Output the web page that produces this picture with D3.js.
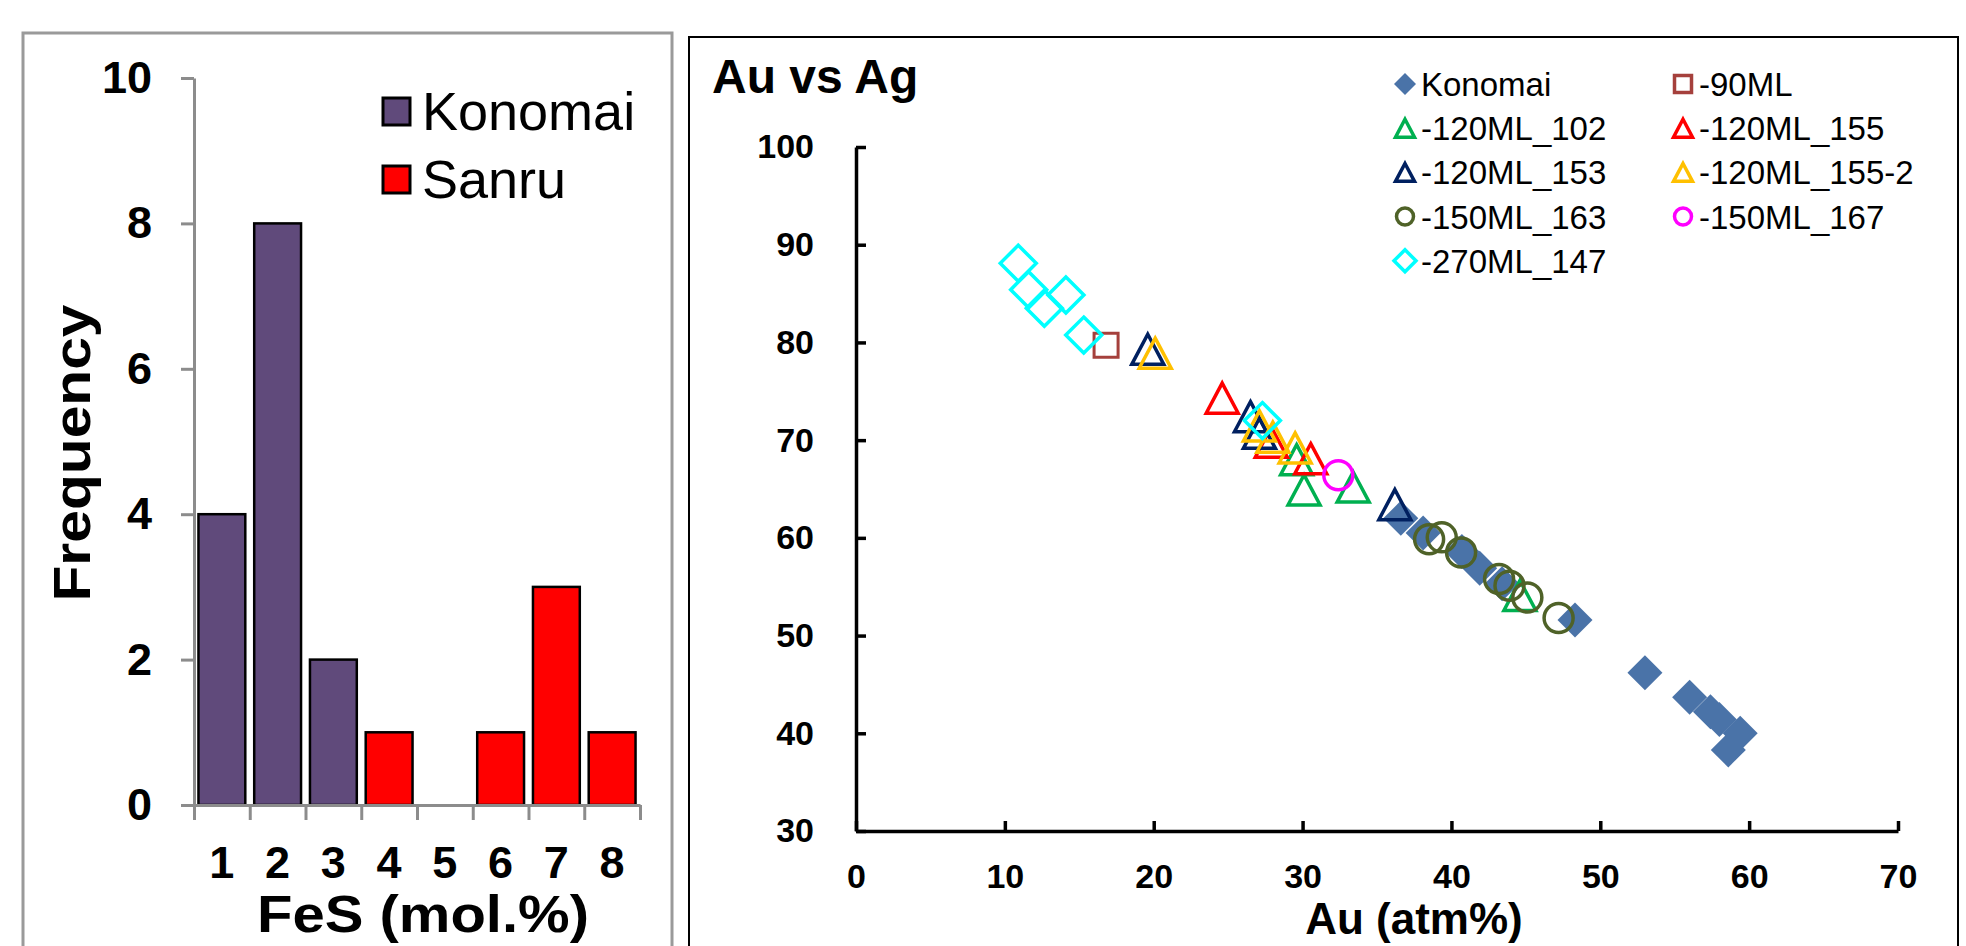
<!DOCTYPE html>
<html>
<head>
<meta charset="utf-8">
<script src="https://cdn.jsdelivr.net/npm/d3@7"></script>
<style>
  body { margin: 0; background: #fff; }
  text { font-family: "Liberation Sans", Arial, sans-serif; }
</style>
</head>
<body>
<script>
// ---- histogram data ----
var fesBins = ['1', '2', '3', '4', '5', '6', '7', '8'];
var konomaiFreq = [4, 8, 2, 0, 0, 0, 0, 0];
var sanruFreq = [0, 0, 0, 1, 0, 1, 3, 1];
var freqTicks = [0, 2, 4, 6, 8, 10];

// ---- scatter data, [Au, Ag] ----
var konomai = [[36.6, 62.0], [38.1, 60.5], [40.7, 58.6], [41.9, 56.9], [43.4, 55.3], [48.3, 51.6],
               [53.0, 46.2], [56.0, 43.7], [57.4, 42.2], [58.0, 41.4], [59.4, 40.0], [58.6, 38.3]];
var ml90 = [[16.8, 79.7]];
var ml120_102 = [[29.6, 68.0], [30.1, 64.9], [33.4, 65.2], [44.6, 54.1]];
var ml120_155 = [[24.6, 74.3], [27.9, 69.8], [30.55, 68.1]];
var ml120_153 = [[19.6, 79.3], [26.5, 72.4], [27.1, 70.7], [36.2, 63.4]];
var ml120_155_2 = [[20.1, 78.9], [27.1, 71.45], [28.0, 70.3], [29.5, 69.2]];
var ml150_163 = [[38.5, 59.85], [39.35, 60.05], [40.65, 58.5], [43.2, 55.8], [43.9, 55.1], [45.1, 53.9], [47.2, 51.8]];
var ml150_167 = [[32.4, 66.4]];
var ml270_147 = [[10.9, 88.1], [11.6, 85.4], [12.65, 83.5], [14.1, 84.85], [15.3, 80.75], [27.3, 72.0]];
var auTicks = [0, 10, 20, 30, 40, 50, 60, 70];
var agTicks = [30, 40, 50, 60, 70, 80, 90, 100];

var series = [
    { name: 'Konomai', data: konomai, shape: 'diamond', color: '#4a73a8', fill: true },
    { name: '-90ML', data: ml90, shape: 'square', color: '#a5403c' },
    { name: '-120ML_102', data: ml120_102, shape: 'triangle', color: '#00b050' },
    { name: '-120ML_155', data: ml120_155, shape: 'triangle', color: '#ff0000' },
    { name: '-120ML_153', data: ml120_153, shape: 'triangle', color: '#002060' },
    { name: '-120ML_155-2', data: ml120_155_2, shape: 'triangle', color: '#ffc000' },
    { name: '-150ML_163', data: ml150_163, shape: 'circle', color: '#4f6228' },
    { name: '-150ML_167', data: ml150_167, shape: 'circle', color: '#ff00ff' },
    { name: '-270ML_147', data: ml270_147, shape: 'diamond', color: '#00ffff' }
];

var FONT = '"Liberation Sans", Arial, sans-serif';
var svg = d3.select('body').append('svg').attr('width', 1966).attr('height', 946);

// ================= left panel: histogram =================
svg.append('rect')
    .attr('x', 23).attr('y', 33).attr('width', 649).attr('height', 960)
    .attr('fill', 'none').attr('stroke', '#9a9a9a').attr('stroke-width', 3);

var yF = d3.scaleLinear().domain([0, 10]).range([805, 78]);
var xF = d3.scaleBand().domain(fesBins).range([194, 640]).paddingInner(0.16).paddingOuter(0.08);
var edges = d3.scaleLinear().domain([0, 8]).range([194, 640]);

var bars = [];
fesBins.forEach(function (b, i) {
    if (konomaiFreq[i] > 0) bars.push({ bin: b, v: konomaiFreq[i], c: '#604a7b' });
    if (sanruFreq[i] > 0) bars.push({ bin: b, v: sanruFreq[i], c: '#ff0000' });
});

svg.append('g').selectAll('rect').data(bars)
    .enter().append('rect')
        .attr('x', function (d) { return xF(d.bin); })
        .attr('y', function (d) { return yF(d.v); })
        .attr('width', xF.bandwidth())
        .attr('height', function (d) { return yF(0) - yF(d.v); })
        .attr('fill', function (d) { return d.c; })
        .attr('stroke', '#000').attr('stroke-width', 2.5);

var gy = svg.append('g').attr('transform', 'translate(194,0)')
    .call(d3.axisLeft(yF).tickValues(freqTicks).tickSize(13).tickSizeOuter(0).tickPadding(29));
var gx = svg.append('g').attr('transform', 'translate(0,805)')
    .call(d3.axisBottom(edges).tickValues(d3.range(0, 9)).tickSize(15).tickSizeOuter(0).tickFormat(''));
[gy, gx].forEach(function (g) {
    g.selectAll('path, line').attr('stroke', '#8c8c8c').attr('stroke-width', 3);
});
gy.selectAll('text').attr('font-size', 45).attr('font-weight', 'bold').attr('fill', '#000')
    .attr('font-family', FONT);

svg.append('g').selectAll('text').data(fesBins)
    .enter().append('text')
        .attr('x', function (d) { return xF(d) + xF.bandwidth() / 2; })
        .attr('y', 878)
        .attr('text-anchor', 'middle')
        .attr('font-size', 45).attr('font-weight', 'bold')
        .text(function (d) { return d; });

svg.append('text')
    .attr('x', 423).attr('y', 932)
    .attr('text-anchor', 'middle')
    .attr('font-size', 52).attr('font-weight', 'bold')
    .attr('textLength', 332).attr('lengthAdjust', 'spacingAndGlyphs')
    .text('FeS (mol.%)');

svg.append('text')
    .attr('transform', 'translate(90,453) rotate(-90)')
    .attr('text-anchor', 'middle')
    .attr('font-size', 52).attr('font-weight', 'bold')
    .attr('textLength', 297).attr('lengthAdjust', 'spacingAndGlyphs')
    .text('Frequency');

var histLegend = [{ name: 'Konomai', c: '#604a7b' }, { name: 'Sanru', c: '#ff0000' }];
var hl = svg.append('g').selectAll('g').data(histLegend)
    .enter().append('g')
        .attr('transform', function (d, i) { return 'translate(383,' + (111 + i * 68) + ')'; });
hl.append('rect').attr('x', 0).attr('y', -13).attr('width', 27).attr('height', 27)
    .attr('fill', function (d) { return d.c; }).attr('stroke', '#000').attr('stroke-width', 3);
hl.append('text').attr('x', 39).attr('y', 19).attr('font-size', 54)
    .text(function (d) { return d.name; });

// ================= right panel: scatter =================
svg.append('rect')
    .attr('x', 689).attr('y', 37).attr('width', 1269).attr('height', 960)
    .attr('fill', 'none').attr('stroke', '#000').attr('stroke-width', 2);

svg.append('text')
    .attr('x', 712).attr('y', 93)
    .attr('font-size', 48).attr('font-weight', 'bold')
    .text('Au vs Ag');

var xA = d3.scaleLinear().domain([0, 70]).range([856, 1898]);
var yA = d3.scaleLinear().domain([30, 100]).range([831, 147]);

var ay = svg.append('g').attr('transform', 'translate(856,0)')
    .call(d3.axisLeft(yA).tickValues(agTicks).tickSizeInner(-10).tickSizeOuter(0).tickPadding(42));
var ax = svg.append('g').attr('transform', 'translate(0,831)')
    .call(d3.axisBottom(xA).tickValues(auTicks).tickSizeInner(-10).tickSizeOuter(0).tickPadding(33));
[ay, ax].forEach(function (g) {
    g.selectAll('path, line').attr('stroke', '#000').attr('stroke-width', 3.5);
    g.selectAll('text').attr('font-size', 34).attr('font-weight', 'bold').attr('fill', '#000')
        .attr('font-family', FONT);
});

svg.append('text')
    .attr('x', 1414).attr('y', 934)
    .attr('text-anchor', 'middle')
    .attr('font-size', 44).attr('font-weight', 'bold')
    .text('Au (atm%)');

var shapePath = function (shape, s) {
    if (shape === 'diamond') return 'M0,' + (-s) + 'L' + s + ',0L0,' + s + 'L' + (-s) + ',0Z';
    if (shape === 'square') return 'M' + (-s) + ',' + (-s) + 'H' + s + 'V' + s + 'H' + (-s) + 'Z';
    if (shape === 'triangle') return 'M0,' + (-s * 0.94) + 'L' + s + ',' + (s * 0.94) + 'L' + (-s) + ',' + (s * 0.94) + 'Z';
    return 'M' + s + ',0A' + s + ',' + s + ' 0 1,1 ' + (-s) + ',0A' + s + ',' + s + ' 0 1,1 ' + s + ',0Z';
};
var markerSize = { diamond: 18, square: 12, triangle: 16, circle: 14.5 };

series.forEach(function (sr) {
    svg.append('g').selectAll('path').data(sr.data)
        .enter().append('path')
            .attr('transform', function (d) { return 'translate(' + xA(d[0]) + ',' + yA(d[1]) + ')'; })
            .attr('d', shapePath(sr.shape, sr.fill ? 17.5 : markerSize[sr.shape]))
            .attr('fill', sr.fill ? sr.color : 'none')
            .attr('stroke', sr.fill ? 'none' : sr.color)
            .attr('stroke-width', sr.shape === 'square' ? 3 : 3.5)
            .attr('stroke-linejoin', 'miter');
});

// legend, two columns, row-wise order
var leg = svg.append('g').selectAll('g').data(series)
    .enter().append('g')
        .attr('transform', function (d, i) {
            return 'translate(' + (i % 2 === 0 ? 1405 : 1683) + ',' + (84 + Math.floor(i / 2) * 44.2) + ')';
        });
leg.append('path')
    .attr('d', function (d) {
        var s = d.shape === 'diamond' ? 11 : d.shape === 'square' ? 8.5 : d.shape === 'circle' ? 8.5 : 9.5;
        return shapePath(d.shape, s);
    })
    .attr('fill', function (d) { return d.fill ? d.color : 'none'; })
    .attr('stroke', function (d) { return d.fill ? 'none' : d.color; })
    .attr('stroke-width', 3.5);
leg.append('text').attr('x', 16).attr('y', 12).attr('font-size', 33)
    .text(function (d) { return d.name; });
</script>
</body>
</html>
